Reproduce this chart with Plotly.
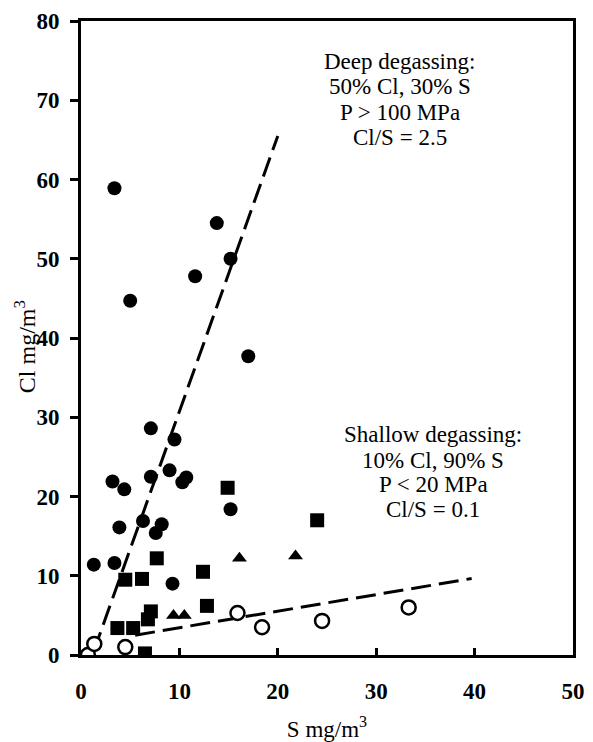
import plotly.graph_objects as go

# Filled circles
fc_s = [7.1, 9.5, 3.2, 4.4, 7.1, 9.0, 10.7, 10.3, 15.2, 3.9, 6.3, 8.2, 7.6, 1.3, 3.4, 9.3,
        3.4, 13.8, 15.2, 11.6, 5.0, 17.0]
fc_cl = [28.6, 27.2, 21.9, 20.9, 22.5, 23.3, 22.4, 21.8, 18.4, 16.1, 16.9, 16.5, 15.4, 11.4, 11.6, 9.0,
         58.9, 54.5, 50.0, 47.8, 44.7, 37.7]
# Filled squares
sq_s = [14.9, 24.0, 7.7, 12.4, 4.5, 6.2, 12.8, 7.1, 6.8, 3.7, 5.3, 6.5]
sq_cl = [21.1, 17.0, 12.2, 10.5, 9.5, 9.6, 6.2, 5.5, 4.5, 3.4, 3.4, 0.2]
# Filled triangles
tr_s = [16.1, 21.8, 9.4, 10.5]
tr_cl = [12.2, 12.5, 5.0, 5.0]
# Open circles
oc_s = [0.7, 1.35, 4.5, 15.9, 18.4, 24.5, 33.3]
oc_cl = [0.0, 1.4, 1.0, 5.3, 3.5, 4.3, 6.0]

# Degassing trend lines
deep_s = [1.3, 20.0]
deep_cl = [0.5, 65.5]
shallow_s = [5.5, 39.7]
shallow_cl = [2.5, 9.65]

x_ticks = [0, 10, 20, 30, 40, 50]
y_ticks = [0, 10, 20, 30, 40, 50, 60, 70, 80]

deep_text = ["Deep degassing:", "50% Cl, 30% S", "P > 100 MPa", "Cl/S = 2.5"]
deep_pos = (32.4, [74.9, 71.7, 68.5, 65.3])
shallow_text = ["Shallow degassing:", "10% Cl, 90% S", "P < 20 MPa", "Cl/S = 0.1"]
shallow_pos = (35.8, [27.8, 24.6, 21.5, 18.3])

serif = "Liberation Serif, Times New Roman, serif"

fig = go.Figure()
dash = "20px,8px"
fig.add_trace(go.Scatter(x=deep_s, y=deep_cl, mode="lines",
                         line=dict(color="black", width=3, dash=dash)))
fig.add_trace(go.Scatter(x=shallow_s, y=shallow_cl, mode="lines",
                         line=dict(color="black", width=3, dash=dash)))
fig.add_trace(go.Scatter(x=fc_s, y=fc_cl, mode="markers",
                         marker=dict(symbol="circle", size=14, color="black")))
fig.add_trace(go.Scatter(x=sq_s, y=sq_cl, mode="markers",
                         marker=dict(symbol="square", size=14, color="black")))
fig.add_trace(go.Scatter(x=tr_s, y=tr_cl, mode="markers",
                         marker=dict(symbol="triangle-up", size=13, color="black")))
fig.add_trace(go.Scatter(x=oc_s, y=oc_cl, mode="markers",
                         marker=dict(symbol="circle", size=14, color="white",
                                     line=dict(color="black", width=2.5))))

for lines, (px, pys) in [(deep_text, deep_pos), (shallow_text, shallow_pos)]:
    for t, py in zip(lines, pys):
        fig.add_annotation(x=px, y=py, xref="x", yref="y", text=t,
                           showarrow=False, align="center",
                           font=dict(family=serif, size=23, color="black"))

# y-axis title placed as a rotated annotation
fig.add_annotation(x=-0.114, y=0.487, xref="paper", yref="paper",
                   text="Cl mg/m<sup>3</sup>", textangle=-90, showarrow=False,
                   xanchor="center", yanchor="middle",
                   font=dict(family=serif, size=24, color="black"))

# the page body has an 8px margin, so the figure is 8px smaller and margins shifted
fig.update_layout(
    width=585, height=734,
    margin=dict(l=73, r=20, t=13, b=87),
    paper_bgcolor="white", plot_bgcolor="white",
    showlegend=False,
    font=dict(family=serif, color="black"),
)
fig.update_xaxes(range=[0, 50], tickvals=x_ticks, showgrid=False, zeroline=False,
                 showline=True, linecolor="black", linewidth=3, mirror=True,
                 ticks="inside", ticklen=7, tickwidth=2.5, tickcolor="black",
                 ticklabelstandoff=13, automargin=False,
                 tickfont=dict(family=serif, size=23, color="black", weight="bold"),
                 title=dict(text="S mg/m<sup>3</sup>", font=dict(family=serif, size=23),
                            standoff=22))
fig.update_yaxes(range=[0, 80], tickvals=y_ticks, showgrid=False, zeroline=False,
                 showline=True, linecolor="black", linewidth=3, mirror=True,
                 ticks="outside", ticklen=8, tickwidth=2.5, tickcolor="black",
                 ticklabelstandoff=6, automargin=False,
                 tickfont=dict(family=serif, size=23, color="black", weight="bold"))

fig.write_html("out.html")
